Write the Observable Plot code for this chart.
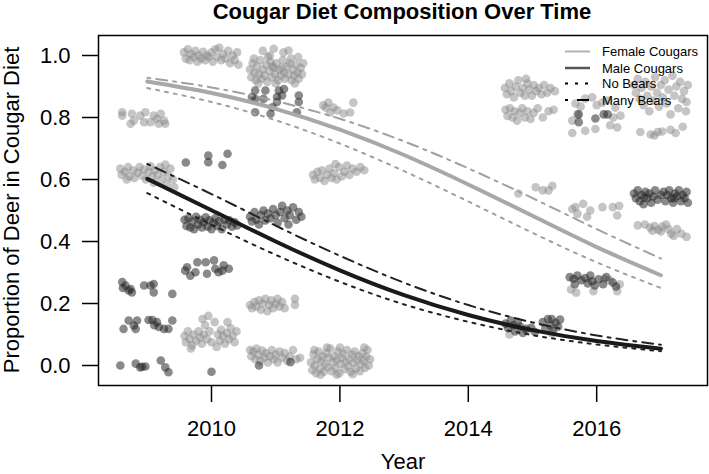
<!DOCTYPE html>
<html><head><meta charset="utf-8">
<script src="https://cdn.jsdelivr.net/npm/d3@7"></script>
<script src="https://cdn.jsdelivr.net/npm/@observablehq/plot@0.6"></script>
<style>body{margin:0;background:#fff}svg{display:block}</style>
</head><body><div id="chart"></div>
<script>
// ---- data ----
const title = "Cougar Diet Composition Over Time";
const xLabel = "Year";
const yLabel = "Proportion of Deer in Cougar Diet";
const xTicks = [2010, 2012, 2014, 2016];
const yTicks = [0, 0.2, 0.4, 0.6, 0.8, 1.0];
const legendLabels = ["Female Cougars", "Male Cougars", "No Bears", "Many Bears"];

// fitted curves, read at each year
const fitYears   = [2009, 2010, 2011, 2012, 2013, 2014, 2015, 2016, 2017];
const femaleFit  = [0.916, 0.879, 0.828, 0.761, 0.679, 0.584, 0.483, 0.382, 0.291];
const femaleMany = [0.928, 0.897, 0.853, 0.796, 0.723, 0.636, 0.540, 0.440, 0.345];
const femaleNo   = [0.895, 0.850, 0.791, 0.716, 0.627, 0.529, 0.428, 0.333, 0.250];
const maleFit    = [0.602, 0.501, 0.400, 0.307, 0.227, 0.163, 0.114, 0.079, 0.054];
const maleMany   = [0.650, 0.553, 0.451, 0.354, 0.267, 0.195, 0.139, 0.097, 0.067];
const maleNo     = [0.556, 0.454, 0.357, 0.270, 0.197, 0.141, 0.098, 0.068, 0.046];

// jittered observations [year, proportion]
const femalePts = [
 [2008.61,.817],[2008.61,.806],[2008.76,.812],[2008.79,.79],[2008.89,.806],[2008.95,.785],[2008.97,.817],[2009.10,.806],[2009.15,.796],[2009.21,.812],[2009.26,.79],[2009.28,.78],[2008.74,.78],[2009.05,.785],[2009.18,.78],
 [2008.58,.635],[2008.60,.615],[2008.65,.625],[2008.70,.640],[2008.72,.610],[2008.78,.630],[2008.80,.605],[2008.85,.622],[2008.88,.640],[2008.92,.612],[2008.95,.632],[2008.98,.600],[2009.02,.625],[2009.05,.643],[2009.08,.610],[2009.10,.590],[2009.12,.630],[2009.16,.615],[2009.20,.640],[2009.22,.600],[2009.26,.625],[2009.30,.585],[2009.33,.610],[2009.36,.635],[2009.40,.600],[2009.42,.575],[2008.68,.600],[2009.28,.648],
 [2009.57,1.010],[2009.60,.990],[2009.63,1.020],[2009.66,.985],[2009.68,1.005],[2009.72,.995],[2009.75,1.015],[2009.78,.980],[2009.80,1.000],[2009.84,.990],[2009.87,1.012],[2009.90,.985],[2009.93,1.000],[2009.96,.995],[2010.00,1.010],[2010.02,.980],[2010.06,1.020],[2010.09,.995],[2010.12,1.025],[2010.15,.985],[2010.18,1.005],[2010.22,.990],[2010.26,1.015],[2010.29,.975],[2010.33,1.000],[2010.36,.985],[2010.40,1.010],[2010.42,.970],
 [2009.58,.095],[2009.60,.075],[2009.63,.110],[2009.66,.085],[2009.70,.065],[2009.72,.100],[2009.76,.080],[2009.80,.110],[2009.82,.090],[2009.85,.070],[2009.88,.100],[2009.90,.130],[2009.93,.085],[2009.95,.160],[2009.97,.110],[2010.00,.075],[2009.86,.150],[2010.05,.140],[2010.10,.100],[2010.13,.080],[2010.15,.115],[2010.18,.095],[2010.21,.070],[2010.24,.105],[2010.27,.085],[2010.30,.120],[2010.33,.095],[2010.36,.075],[2010.39,.110],[2010.25,.140],[2009.68,.055],[2010.08,.060],
 [2010.60,.955],[2010.62,.930],[2010.64,.975],[2010.67,.945],[2010.69,.920],[2010.71,.965],[2010.74,.940],[2010.76,.985],[2010.78,.925],[2010.80,.955],[2010.83,.935],[2010.85,.970],[2010.87,.915],[2010.90,.950],[2010.92,.980],[2010.94,.930],[2010.97,.960],[2010.99,.940],[2011.01,.975],[2011.04,.920],[2011.06,.955],[2011.08,.935],[2011.11,.985],[2011.13,.945],[2011.15,.925],[2011.18,.965],[2011.20,.940],[2011.22,.975],[2011.25,.920],[2011.27,.955],[2011.29,.935],[2011.32,.970],[2011.34,.945],[2011.36,.925],[2011.39,.960],[2011.41,.940],[2011.43,.975],[2010.66,.990],[2010.88,.995],[2011.10,.960],[2011.24,.990],[2010.73,.910],[2011.00,.910],[2011.30,.910],[2010.95,.965],
 [2010.80,1.015],[2010.97,1.022],[2011.12,1.010],[2011.20,1.016],[2010.91,1.000],[2011.35,.995],
 [2010.60,.195],[2010.63,.185],[2010.67,.205],[2010.70,.190],[2010.74,.210],[2010.77,.180],[2010.80,.200],[2010.84,.215],[2010.87,.175],[2010.90,.195],[2010.93,.210],[2010.96,.185],[2011.00,.200],[2011.03,.215],[2011.06,.190],[2011.10,.205],[2011.14,.185],[2011.30,.215],[2011.30,.195],
 [2010.60,.050],[2010.62,.030],[2010.65,.045],[2010.68,.020],[2010.70,.055],[2010.73,.035],[2010.76,.015],[2010.79,.048],[2010.82,.025],[2010.85,.040],[2010.88,.010],[2010.91,.030],[2010.94,.050],[2010.97,.020],[2011.00,.035],[2011.03,.010],[2011.06,.045],[2011.10,.025],[2011.14,.040],[2011.18,.015],[2011.22,.030],[2011.27,.050],[2011.32,.020],[2011.38,.025],
 [2011.55,.010],[2011.57,-.015],[2011.59,.035],[2011.61,.000],[2011.63,-.025],[2011.65,.020],[2011.67,.045],[2011.69,-.010],[2011.71,.015],[2011.73,.030],[2011.75,-.020],[2011.77,.005],[2011.79,.040],[2011.81,-.005],[2011.83,.025],[2011.85,.055],[2011.87,-.018],[2011.89,.010],[2011.91,.030],[2011.93,-.008],[2011.95,.018],[2011.97,.045],[2011.99,-.025],[2012.01,.005],[2012.03,.025],[2012.05,.038],[2012.07,-.012],[2012.09,.012],[2012.11,.050],[2012.13,-.002],[2012.15,.022],[2012.17,-.020],[2012.19,.035],[2012.21,.008],[2012.23,.045],[2012.25,-.010],[2012.27,.018],[2012.29,.030],[2012.31,-.018],[2012.33,.005],[2012.35,.040],[2012.37,.015],[2012.39,-.008],[2012.41,.028],[2012.43,.050],[2012.45,.000],[2012.47,.020],[2011.60,.050],[2011.80,.058],[2012.00,.058],[2012.20,-.028],[2011.70,-.030],[2012.38,.058],[2011.95,-.030],
 [2011.58,.615],[2011.61,.600],[2011.65,.625],[2011.69,.605],[2011.72,.630],[2011.76,.595],[2011.80,.615],[2011.84,.635],[2011.87,.605],[2011.91,.620],[2011.95,.600],[2011.99,.640],[2012.03,.610],[2012.07,.625],[2012.11,.645],[2012.15,.615],[2012.20,.635],[2012.26,.625],[2012.32,.640],[2012.38,.630],[2011.93,.650],
 [2011.74,.839],[2011.82,.848],[2011.90,.832],[2011.96,.823],[2011.85,.816],[2012.06,.813],[2012.21,.848],[2012.16,.816],[2011.78,.832],
 [2014.57,.895],[2014.60,.875],[2014.64,.910],[2014.67,.885],[2014.71,.865],[2014.74,.900],[2014.78,.920],[2014.81,.880],[2014.85,.895],[2014.88,.870],[2014.92,.910],[2014.95,.890],[2014.99,.870],[2015.02,.905],[2015.06,.885],[2015.10,.895],[2015.14,.875],[2015.18,.905],[2015.23,.880],[2015.28,.895],[2015.35,.885],[2014.90,.925],
 [2014.58,.825],[2014.61,.805],[2014.65,.830],[2014.69,.800],[2014.72,.820],[2014.76,.790],[2014.80,.815],[2014.84,.830],[2014.88,.800],[2014.92,.820],[2014.97,.795],[2015.02,.815],[2015.08,.830],[2015.16,.800],[2015.25,.820],[2015.33,.825],
 [2014.78,.555],[2015.05,.575],[2015.16,.565],[2015.25,.565],[2015.31,.580],
 [2015.62,.750],[2015.82,.757],[2015.98,.763],[2016.21,.775],[2016.32,.768],[2015.67,.845],[2015.82,.861],[2015.93,.865],[2016.09,.848],[2016.29,.832],[2016.18,.855],[2015.62,.790],[2016.37,.806],[2016.26,.800],[2015.75,.835],[2016.00,.840],[2015.70,.810],
 [2015.62,.505],[2015.67,.511],[2015.70,.489],[2015.79,.522],[2015.90,.500],[2016.09,.511],[2016.25,.511],[2016.32,.484],[2016.35,.515],[2015.85,.480],
 [2015.60,.245],[2015.68,.235],[2015.95,.240],[2016.12,.280],[2016.32,.240],[2016.36,.262],[2016.20,.275],
 [2014.92,.112],[2015.30,.104],[2014.64,.100],
 [2016.58,.905],[2016.61,.880],[2016.64,.925],[2016.67,.860],[2016.70,.895],[2016.73,.840],[2016.76,.915],[2016.79,.870],[2016.82,.820],[2016.85,.900],[2016.88,.855],[2016.91,.930],[2016.94,.880],[2016.97,.835],[2017.00,.905],[2017.03,.865],[2017.06,.920],[2017.09,.845],[2017.12,.890],[2017.15,.810],[2017.18,.935],[2017.21,.870],[2017.24,.900],[2017.27,.830],[2017.30,.915],[2017.33,.860],[2017.36,.885],[2017.39,.820],[2017.42,.905],[2017.40,.850],
 [2016.68,.753],[2016.84,.745],[2016.95,.753],[2017.02,.755],[2017.15,.760],[2017.23,.750],[2017.34,.770],[2016.90,.742],
 [2016.64,.452],[2016.75,.455],[2016.83,.445],[2016.90,.450],[2016.96,.438],[2017.02,.448],[2017.08,.455],[2017.12,.440],[2017.16,.425],[2017.20,.418],[2016.87,.435],[2017.00,.432],[2017.25,.440],[2017.32,.425],[2017.40,.415]
];

const malePts = [
 [2008.61,.269],[2008.66,.258],[2008.74,.247],[2008.76,.236],[2008.71,.242],[2008.95,.258],[2009.10,.263],[2009.10,.236],[2009.39,.231],[2008.62,.250],[2009.05,.258],
 [2008.63,.118],[2008.71,.145],[2008.82,.118],[2008.84,.145],[2009.02,.147],[2009.08,.147],[2009.15,.140],[2009.18,.124],[2009.26,.118],[2009.33,.118],[2009.39,.145],[2008.79,.129],[2009.11,.130],
 [2008.58,.000],[2008.82,.006],[2008.89,-.006],[2008.97,-.003],[2009.21,.016],[2009.28,-.006],[2009.33,-.022],[2008.92,-.004],
 [2009.60,.655],[2009.95,.677],[2009.95,.656],[2010.25,.683],[2010.17,.647],
 [2009.58,.470],[2009.61,.450],[2009.64,.475],[2009.67,.445],[2009.70,.465],[2009.73,.440],[2009.76,.480],[2009.79,.455],[2009.82,.470],[2009.85,.445],[2009.88,.462],[2009.91,.478],[2009.94,.448],[2009.97,.468],[2010.00,.440],[2010.03,.460],[2010.06,.475],[2010.09,.450],[2010.12,.465],[2010.16,.440],[2010.20,.470],[2010.24,.455],[2010.28,.468],[2010.32,.448],[2010.36,.462],[2010.40,.452],
 [2009.62,.317],[2009.67,.290],[2009.75,.301],[2009.78,.333],[2009.91,.333],[2009.93,.296],[2010.04,.339],[2010.06,.312],[2010.11,.301],[2010.19,.323],[2010.27,.312],[2009.59,.306],[2010.17,.306],
 [2010.00,-.020],
 [2010.68,.887],[2010.68,.860],[2010.81,.860],[2010.84,.887],[2011.02,.866],[2011.05,.887],[2011.10,.871],[2011.13,.892],[2011.36,.871],[2011.33,.817],[2010.68,.817],[2010.92,.812],[2010.95,.833],[2011.36,.850],[2011.02,.850],[2010.63,.866],
 [2010.60,.480],[2010.63,.465],[2010.67,.495],[2010.70,.470],[2010.74,.455],[2010.77,.485],[2010.81,.500],[2010.84,.468],[2010.88,.490],[2010.92,.475],[2010.96,.505],[2011.00,.485],[2011.03,.460],[2011.07,.495],[2011.10,.515],[2011.14,.475],[2011.18,.500],[2011.22,.485],[2011.27,.510],[2011.32,.470],[2011.36,.495],[2011.40,.480],[2011.20,.455],
 [2010.74,.000],[2011.23,.011],
 [2014.58,.135],[2014.62,.120],[2014.66,.145],[2014.70,.130],[2014.73,.110],[2014.77,.140],[2014.81,.125],[2014.85,.105],[2014.90,.118],[2014.98,.122],[2015.16,.140],[2015.20,.120],[2015.24,.150],[2015.28,.130],[2015.32,.112],[2015.36,.138],[2015.40,.125],[2015.43,.148],[2015.04,.108],[2015.30,.150],
 [2015.72,.810],[2015.72,.785],[2015.98,.797],[2016.11,.810],[2016.17,.810],
 [2015.58,.285],[2015.64,.280],[2015.70,.290],[2015.76,.275],[2015.82,.282],[2015.86,.265],[2015.90,.290],[2015.93,.272],[2015.97,.258],[2016.03,.278],[2016.10,.262],[2016.15,.285],[2016.25,.268],[2016.30,.255],[2015.66,.262],
 [2016.58,.555],[2016.61,.540],[2016.64,.565],[2016.67,.530],[2016.70,.550],[2016.73,.520],[2016.76,.560],[2016.79,.540],[2016.82,.555],[2016.85,.525],[2016.88,.545],[2016.91,.565],[2016.95,.535],[2017.00,.550],[2017.04,.560],[2017.07,.530],[2017.10,.550],[2017.13,.565],[2017.16,.540],[2017.19,.525],[2017.22,.555],[2017.25,.545],[2017.28,.565],[2017.31,.530],[2017.34,.550],[2017.37,.540],[2017.40,.560],[2017.42,.525],[2016.74,.542],[2017.20,.540]
];

// ---- build ----
const toRows = pts => pts.map(([x, y]) => ({x, y}));
const fitRows = vals => fitYears.map((x, i) => ({x, y: vals[i]}));
const font = "'Liberation Sans', Arial, Helvetica, sans-serif";
const DOT = "3,6", DASHDOT = "3,6,11,6";

const plot = Plot.plot({
  width: 709, height: 474,
  marginLeft: 98, marginRight: 2, marginTop: 35, marginBottom: 89,
  style: {fontFamily: font, background: "#fff", color: "#000"},
  x: {domain: [2008.24, 2017.726]},
  y: {domain: [-0.0645, 1.0645]},
  marks: [
    Plot.dot(toRows(femalePts), {x: "x", y: "y", r: 4.3, fill: "#8c8c8c", fillOpacity: 0.5, stroke: "none"}),
    Plot.dot(toRows(malePts), {x: "x", y: "y", r: 4.3, fill: "#2a2a2a", fillOpacity: 0.55, stroke: "none"}),
    Plot.line(fitRows(femaleFit), {x: "x", y: "y", curve: "natural", stroke: "#a8a8a8", strokeWidth: 4}),
    Plot.line(fitRows(femaleNo), {x: "x", y: "y", curve: "natural", stroke: "#a0a0a0", strokeWidth: 2, strokeDasharray: DOT}),
    Plot.line(fitRows(femaleMany), {x: "x", y: "y", curve: "natural", stroke: "#a0a0a0", strokeWidth: 2, strokeDasharray: DASHDOT}),
    Plot.line(fitRows(maleFit), {x: "x", y: "y", curve: "natural", stroke: "#1a1a1a", strokeWidth: 4}),
    Plot.line(fitRows(maleNo), {x: "x", y: "y", curve: "natural", stroke: "#222", strokeWidth: 2, strokeDasharray: DOT}),
    Plot.line(fitRows(maleMany), {x: "x", y: "y", curve: "natural", stroke: "#222", strokeWidth: 2, strokeDasharray: DASHDOT}),
    Plot.frame({stroke: "#000", strokeWidth: 1.5}),
    Plot.axisX({ticks: xTicks, tickSize: 17, tickPadding: 18, tickFormat: d => String(d), fontSize: 22, strokeWidth: 1.5, label: null}),
    Plot.axisY({ticks: yTicks, tickSize: 16, tickPadding: 12, tickFormat: d => d.toFixed(1), fontSize: 22, strokeWidth: 1.5, label: null})
  ]
});

const svg = d3.select(plot);
svg.append("text").attr("x", 402).attr("y", 19).attr("text-anchor", "middle")
  .attr("font-family", font).attr("font-weight", "bold").attr("font-size", 22).attr("fill", "#000").text(title);
svg.append("text").attr("x", 403).attr("y", 469).attr("text-anchor", "middle")
  .attr("font-family", font).attr("font-size", 22).attr("fill", "#000").text(xLabel);
svg.append("text").attr("transform", "translate(19,210) rotate(-90)").attr("text-anchor", "middle")
  .attr("font-family", font).attr("font-size", 22).attr("fill", "#000").text(yLabel);

const legendStyles = [
  {stroke: "#b3b3b3", width: 2, dash: null},
  {stroke: "#555", width: 2.5, dash: null},
  {stroke: "#000", width: 1.8, dash: "3,7"},
  {stroke: "#000", width: 1.8, dash: "3,9,12,9"}
];
const legendY = [51.5, 68, 83.5, 100];
const lg = svg.append("g");
legendLabels.forEach((lab, i) => {
  const s = legendStyles[i];
  lg.append("line").attr("x1", 565).attr("x2", 590).attr("y1", legendY[i]).attr("y2", legendY[i])
    .attr("stroke", s.stroke).attr("stroke-width", s.width).attr("stroke-dasharray", s.dash);
  lg.append("text").attr("x", 602).attr("y", legendY[i] + 4.7).attr("text-anchor", "start")
    .attr("font-family", font).attr("font-size", 13).attr("fill", "#000").text(lab);
});

document.getElementById("chart").appendChild(plot);
</script>
</body></html>
